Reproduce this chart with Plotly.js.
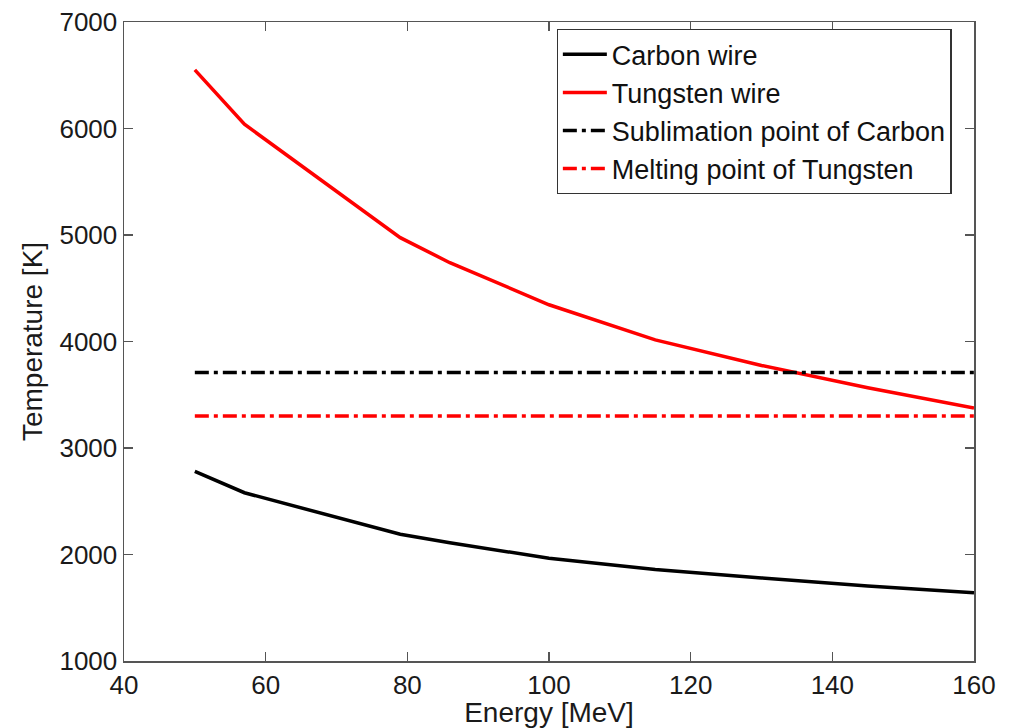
<!DOCTYPE html>
<html>
<head>
<meta charset="utf-8">
<script src="https://cdn.plot.ly/plotly-3.0.1.min.js"></script>
<style>html,body{margin:0;padding:0;background:#fff;}#chart{width:1011px;height:728px;}</style>
</head>
<body>
<div id="chart"></div>
<script>
const energy = [50, 57, 79, 86, 100, 115, 130, 145, 160];
const carbonWire = [2780, 2580, 2190, 2110, 1965, 1860, 1780, 1705, 1640];
const tungstenWire = [6550, 6040, 4975, 4740, 4345, 4015, 3775, 3565, 3375];
const limitX = [50, 160];
const carbonSublimation = [3710, 3710];
const tungstenMelting = [3300, 3300];
const seriesNames = ["Carbon wire", "Tungsten wire", "Sublimation point of Carbon", "Melting point of Tungsten"];
const xTicks = [40, 60, 80, 100, 120, 140, 160];
const yTicks = [1000, 2000, 3000, 4000, 5000, 6000, 7000];

const dashDot = "14px,5px,4px,5px";
const traces = [
  {x: energy, y: carbonWire, name: seriesNames[0], mode: "lines", line: {color: "#000000", width: 3.5}},
  {x: energy, y: tungstenWire, name: seriesNames[1], mode: "lines", line: {color: "#ff0000", width: 3.5}},
  {x: limitX, y: carbonSublimation, name: seriesNames[2], mode: "lines", line: {color: "#000000", width: 3.5, dash: dashDot}},
  {x: limitX, y: tungstenMelting, name: seriesNames[3], mode: "lines", line: {color: "#ff0000", width: 3.5, dash: dashDot}}
];

const fontFam = "Liberation Sans, Arial, sans-serif";
const axisCommon = {
  showgrid: false, zeroline: false, showline: true, mirror: "allticks",
  linecolor: "#555555", linewidth: 1.5, ticks: "inside", ticklen: 9, tickwidth: 1.2, tickcolor: "#555555",
  tickfont: {family: fontFam, size: 26, color: "#1a1a1a"}
};

const layout = {
  width: 1011, height: 728,
  margin: {l: 124, r: 37, t: 22, b: 67},
  paper_bgcolor: "#ffffff", plot_bgcolor: "#ffffff",
  showlegend: true,
  xaxis: Object.assign({}, axisCommon, {
    range: [40, 160], tickvals: xTicks, ticktext: xTicks.map(String),
    title: {text: "Energy [MeV]", standoff: 0, font: {family: fontFam, size: 28, color: "#1a1a1a"}}
  }),
  yaxis: Object.assign({}, axisCommon, {
    range: [1000, 7000], tickvals: yTicks, ticktext: yTicks.map(String),
    title: {text: "Temperature [K]", standoff: 8, font: {family: fontFam, size: 28, color: "#1a1a1a"}}
  }),
  legend: {
    x: 0.509, y: 0.989, xanchor: "left", yanchor: "top",
    bgcolor: "#ffffff", bordercolor: "#333333", borderwidth: 1.2,
    font: {family: fontFam, size: 27, color: "#111111"},
    itemwidth: 44
  }
};

Plotly.newPlot("chart", traces, layout, {staticPlot: true, displayModeBar: false});
</script>
</body>
</html>
